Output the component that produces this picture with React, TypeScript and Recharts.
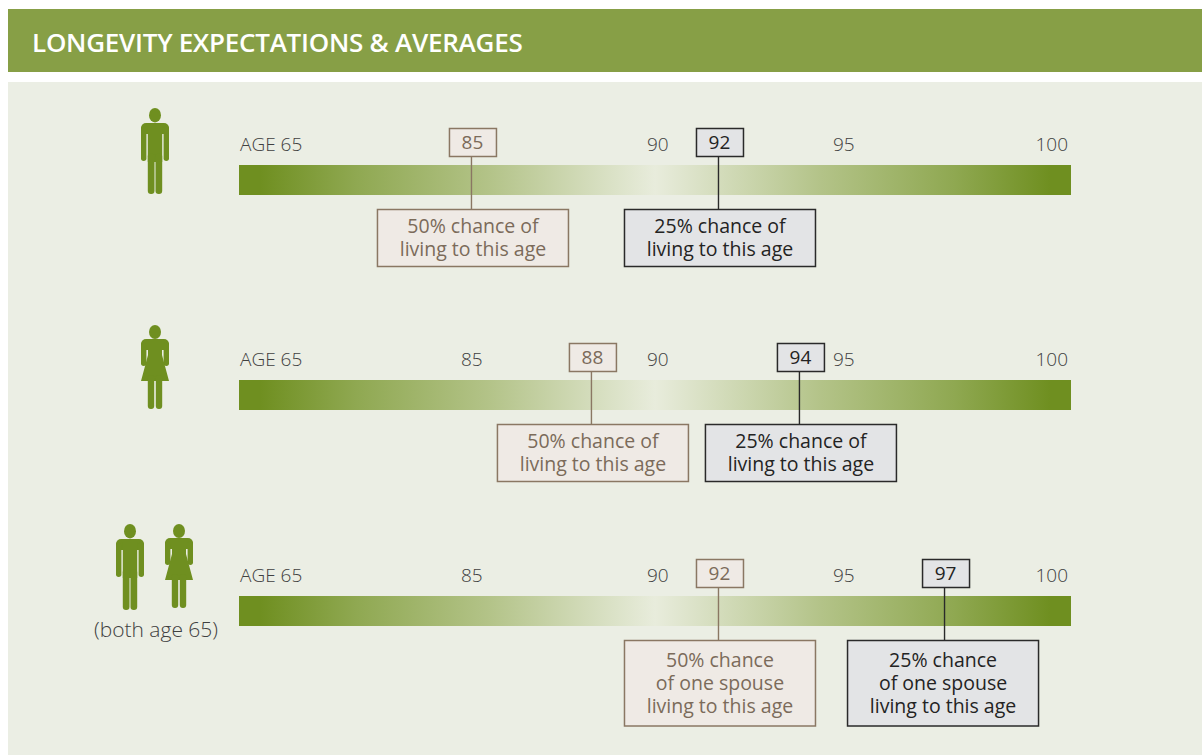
import { ReferenceArea, Scatter, ScatterChart, XAxis, YAxis } from "recharts";

const FONT = "'Open Sans', sans-serif";
const GREEN = "#6f8f20";
const TAN = { border: "#8a7763", fill: "#efeae5", text: "#7b6b5a" };
const DARK = { border: "#2a2a2a", fill: "#e3e4e6", text: "#232323" };

// the printed axis is not to scale, so the age axis is stretched between these stops
const SCALE_AGES = [65, 85, 88, 90, 92, 94, 95, 97, 100];
const SCALE_SHARE = [0, 0.2788, 0.423, 0.5024, 0.5757, 0.673, 0.726, 0.8474, 1];

const MALE_TICKS = [65, 90, 95, 100];
const FULL_TICKS = [65, 85, 90, 95, 100];

const MALE_AGES = [85, 92];
const FEMALE_AGES = [88, 94];
const COUPLE_AGES = [92, 97];

const SINGLE_50 = ["50% chance of", "living to this age"];
const SINGLE_25 = ["25% chance of", "living to this age"];
const COUPLE_50 = ["50% chance", "of one spouse", "living to this age"];
const COUPLE_25 = ["25% chance", "of one spouse", "living to this age"];

function piecewiseScale(domain = [65, 100], range = [0, 1]) {
  const scale: any = (age: number) => {
    let i = 0;
    while (i < SCALE_AGES.length - 2 && age > SCALE_AGES[i + 1]) i++;
    const t = (age - SCALE_AGES[i]) / (SCALE_AGES[i + 1] - SCALE_AGES[i]);
    const share = SCALE_SHARE[i] + t * (SCALE_SHARE[i + 1] - SCALE_SHARE[i]);
    return range[0] + share * (range[1] - range[0]);
  };
  scale.domain = (d?: number[]) => {
    if (!d) return domain;
    domain = d;
    return scale;
  };
  scale.range = (r?: number[]) => {
    if (!r) return range;
    range = r;
    return scale;
  };
  scale.ticks = () => SCALE_AGES;
  scale.copy = () => piecewiseScale(domain, range);
  return scale;
}

function AgeTick({ x, y, payload }: any) {
  const age = payload.value;
  const first = age === 65;
  const last = age === 100;
  return (
    <text
      x={first ? x + 1 : last ? x - 3 : x + 0.8}
      y={y}
      dy={-6}
      textAnchor={first ? "start" : last ? "end" : "middle"}
      fontFamily={FONT}
      fontWeight={300}
      fontSize={19}
      fill="#404040"
    >
      {first ? "AGE 65" : age}
    </text>
  );
}

function Marker({ cx, cy, payload, tone, lines, shift = 0 }: any) {
  const tall = lines.length === 3;
  const center = cx + 2 + shift;
  return (
    <g fontFamily={FONT}>
      <line x1={cx + 0.5} x2={cx + 0.5} y1={cy - 38} y2={cy + 14} stroke={tone.border} strokeWidth={1.4} />
      <rect
        x={cx - 21.5}
        y={cy - 66.5}
        width={47}
        height={28}
        fill={tone.fill}
        stroke={tone.border}
        strokeWidth={1.5}
      />
      <text x={cx + 1.5} y={cy - 46} textAnchor="middle" fontSize={19} fill={tone.text}>
        {payload.age}
      </text>
      <rect
        x={center - 95.5}
        y={cy + 14.5}
        width={191}
        height={tall ? 85.5 : 57}
        fill={tone.fill}
        stroke={tone.border}
        strokeWidth={1.5}
      />
      <text textAnchor="middle" fontSize={19.5} fill={tone.text}>
        {lines.map((line: string, i: number) => (
          <tspan key={line} x={center} y={cy + (tall ? 41 : 38) + i * 23}>
            {line}
          </tspan>
        ))}
      </text>
    </g>
  );
}

function AgeRow({ top, ticks, ages, lines, shifts = [0, 0] }: any) {
  return (
    <div style={{ position: "absolute", left: 0, top: top - 45 }}>
      <ScatterChart
        width={1202}
        height={215}
        margin={{ top: 0, right: 131, bottom: 140, left: 239 }}
      >
        <defs>
          <linearGradient id={`fade${top}`} x1="0" x2="1" y1="0" y2="0">
            <stop offset="0.025" stopColor={GREEN} />
            <stop offset="0.14" stopColor="#8fa851" />
            <stop offset="0.3" stopColor="#b3c388" />
            <stop offset="0.5" stopColor="#e8ecdc" />
            <stop offset="0.7" stopColor="#b3c388" />
            <stop offset="0.86" stopColor="#8fa851" />
            <stop offset="0.975" stopColor={GREEN} />
          </linearGradient>
        </defs>
        <XAxis
          type="number"
          dataKey="age"
          orientation="top"
          height={45}
          domain={[65, 100]}
          scale={piecewiseScale() as any}
          ticks={ticks}
          interval={0}
          axisLine={false}
          tickLine={false}
          tick={<AgeTick />}
        />
        <YAxis type="number" dataKey="level" domain={[0, 1]} hide />
        <ReferenceArea
          x1={65}
          x2={100}
          y1={0}
          y2={1}
          fill={`url(#fade${top})`}
          fillOpacity={1}
          stroke="none"
        />
        <Scatter
          data={[{ age: ages[0], level: 0 }]}
          isAnimationActive={false}
          shape={(p: any) => <Marker {...p} tone={TAN} lines={lines[0]} shift={shifts[0]} />}
        />
        <Scatter
          data={[{ age: ages[1], level: 0 }]}
          isAnimationActive={false}
          shape={(p: any) => <Marker {...p} tone={DARK} lines={lines[1]} shift={shifts[1]} />}
        />
      </ScatterChart>
    </div>
  );
}

function Man({ left, top }: { left: number; top: number }) {
  return (
    <svg
      width={28}
      height={86}
      viewBox="0 0 28 86"
      style={{ position: "absolute", left, top }}
      fill={GREEN}
    >
      <ellipse cx={14} cy={7.2} rx={6} ry={7.2} />
      <rect x={0} y={15} width={28} height={11} rx={5} />
      <rect x={0} y={18} width={5.4} height={35} rx={2.7} />
      <rect x={22.6} y={18} width={5.4} height={35} rx={2.7} />
      <rect x={6.8} y={18} width={14.4} height={36} />
      <rect x={6.8} y={45} width={6.7} height={41} rx={3.2} />
      <rect x={14.5} y={45} width={6.7} height={41} rx={3.2} />
    </svg>
  );
}

function Woman({ left, top }: { left: number; top: number }) {
  return (
    <svg
      width={28}
      height={84}
      viewBox="0 0 28 84"
      style={{ position: "absolute", left, top }}
      fill={GREEN}
    >
      <ellipse cx={14} cy={7} rx={6} ry={7} />
      <rect x={0} y={14} width={28} height={11} rx={5} />
      <rect x={0} y={17} width={5.4} height={24} rx={2.7} />
      <rect x={22.6} y={17} width={5.4} height={24} rx={2.7} />
      <path d="M7 17H21V30L28 56H0L7 30Z" />
      <rect x={6.8} y={50} width={6.4} height={34} rx={3} />
      <rect x={14.8} y={50} width={6.4} height={34} rx={3} />
    </svg>
  );
}

export default function App() {
  return (
    <div
      style={{
        position: "absolute",
        left: 0,
        top: 0,
        width: 1202,
        height: 755,
        overflow: "hidden",
        background: "#fff",
        fontFamily: FONT,
      }}
    >
      <div
        style={{
          position: "absolute",
          left: 8,
          top: 9,
          width: 1194,
          height: 63,
          background: "#879f46",
          color: "#fff",
          fontSize: 26,
          fontWeight: 600,
          letterSpacing: -0.25,
          lineHeight: "66px",
          paddingLeft: 24,
          boxSizing: "border-box",
        }}
      >
        LONGEVITY EXPECTATIONS &amp; AVERAGES
      </div>
      <div
        style={{
          position: "absolute",
          left: 8,
          top: 82,
          width: 1194,
          height: 673,
          background: "#ebeee4",
        }}
      />
      <Man left={141} top={108} />
      <Woman left={141} top={325} />
      <Man left={116} top={524} />
      <Woman left={165} top={524} />
      <div
        style={{
          position: "absolute",
          left: 56,
          width: 200,
          top: 615,
          textAlign: "center",
          fontSize: 21,
          fontWeight: 300,
          color: "#404040",
        }}
      >
        (both age 65)
      </div>
      <AgeRow top={165} ticks={MALE_TICKS} ages={MALE_AGES} lines={[SINGLE_50, SINGLE_25]} />
      <AgeRow top={380} ticks={FULL_TICKS} ages={FEMALE_AGES} lines={[SINGLE_50, SINGLE_25]} />
      <AgeRow
        top={596}
        ticks={FULL_TICKS}
        ages={COUPLE_AGES}
        lines={[COUPLE_50, COUPLE_25]}
        shifts={[0, -3]}
      />
    </div>
  );
}
